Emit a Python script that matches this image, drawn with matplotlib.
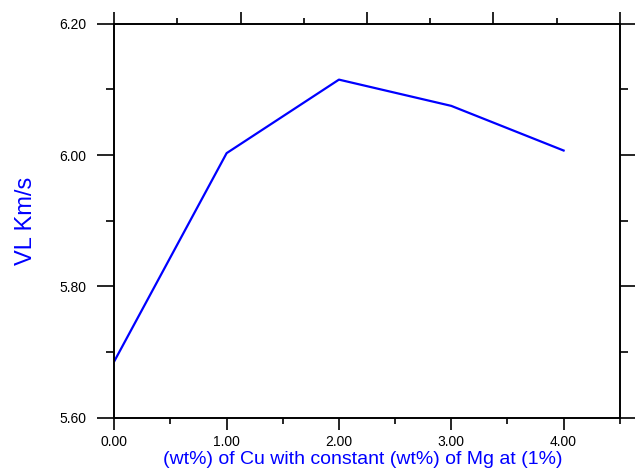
import matplotlib
matplotlib.use("Agg")
import matplotlib.pyplot as plt
from matplotlib.ticker import FixedLocator, FormatStrFormatter

# data
cu_wt = [0, 1, 2, 3, 4]
vl = [5.686, 6.003, 6.115, 6.075, 6.007]

x_major = [0, 1, 2, 3, 4]
x_minor = [0.5, 1.5, 2.5, 3.5, 4.5]
y_major = [5.60, 5.80, 6.00, 6.20]
y_minor = [5.70, 5.90, 6.10]
top_major = [0, 2, 4, 6, 8]
top_minor = [1, 3, 5, 7]

plt.rcParams["font.family"] = ["Liberation Sans", "DejaVu Sans"]

fig = plt.figure(figsize=(6.35, 4.70), dpi=100)
ax = fig.add_axes([0.180, 0.1113, 0.796, 0.838])

ax.plot(cu_wt, vl, color="#0000ff", lw=1.6)

ax.set_xlim(0, 4.5)
ax.set_ylim(5.6, 6.2)
ax.xaxis.set_major_locator(FixedLocator(x_major))
ax.xaxis.set_minor_locator(FixedLocator(x_minor))
ax.yaxis.set_major_locator(FixedLocator(y_major))
ax.yaxis.set_minor_locator(FixedLocator(y_minor))
ax.xaxis.set_major_formatter(FormatStrFormatter("%.2f"))
ax.yaxis.set_major_formatter(FormatStrFormatter("%.2f"))

for s in ax.spines.values():
    s.set_linewidth(1.2)

ax.tick_params(axis="x", which="major", direction="out", length=8.6, width=1.2,
               labelsize=10, pad=4.2, top=False)
ax.tick_params(axis="x", which="minor", direction="out", length=4.3, width=1.2, top=False)
ax.tick_params(axis="y", which="major", direction="out", length=12, width=1.2,
               labelsize=10, pad=8, right=True, labelright=False)
ax.tick_params(axis="y", which="minor", direction="out", length=6, width=1.2, right=True)

# top axis with its own unlabeled scale
ax2 = ax.twiny()
ax2.set_xlim(0, 8)
ax2.xaxis.set_major_locator(FixedLocator(top_major))
ax2.xaxis.set_minor_locator(FixedLocator(top_minor))
ax2.tick_params(axis="x", which="major", direction="out", length=8.6, width=1.2,
                labeltop=False)
ax2.tick_params(axis="x", which="minor", direction="out", length=4.3, width=1.2)
for s in ax2.spines.values():
    s.set_linewidth(1.2)

ax.set_xlabel("(wt%) of Cu with constant (wt%) of Mg at (1%)", color="#0000ff", fontsize=14)
ax.xaxis.set_label_coords(0.492, -0.0846)
ax.set_ylabel("VL Km/s", color="#0000ff", fontsize=17)
ax.yaxis.set_label_coords(-0.153, 0.5)

fig.savefig("out.png", dpi=100)
